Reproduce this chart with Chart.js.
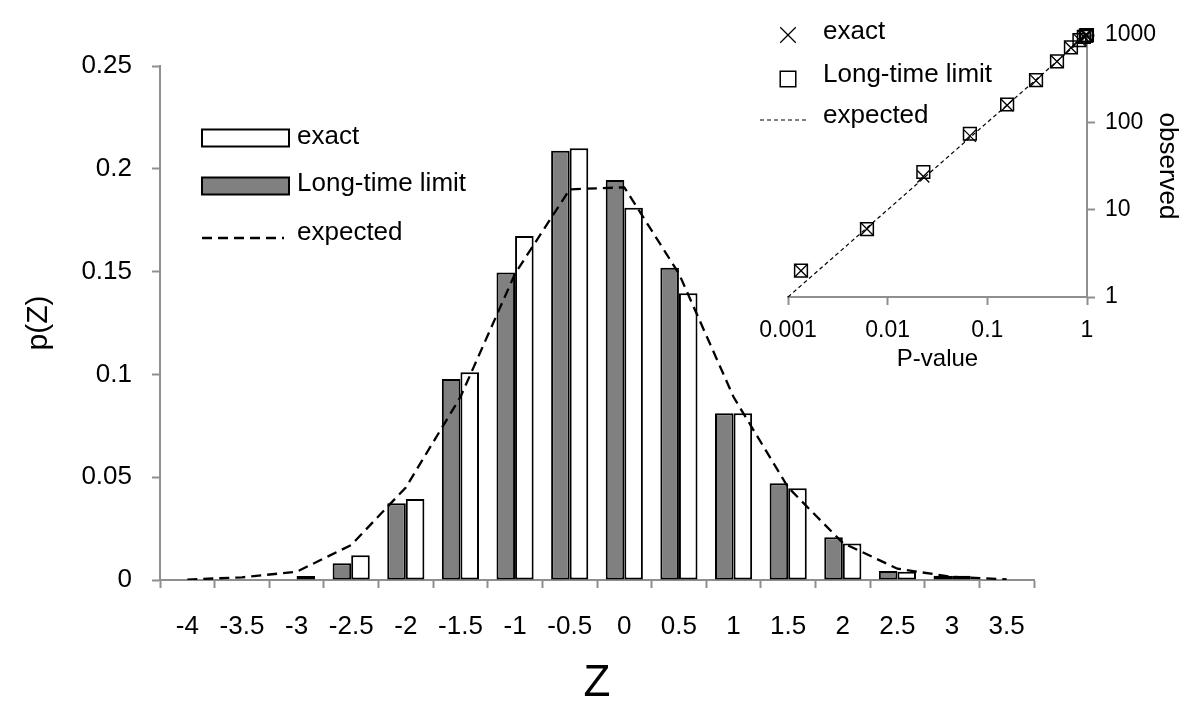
<!DOCTYPE html>
<html>
<head>
<meta charset="utf-8">
<script src="https://cdn.jsdelivr.net/npm/chart.js@4"></script>
<style>
  body { margin: 0; background: #fff; }
  #main { position: absolute; left: 0; top: 0; width: 1200px; height: 728px; }
  #inset { position: absolute; left: 700px; top: 0; width: 500px; height: 390px; }
</style>
</head>
<body>
<div id="main"><canvas id="histChart"></canvas></div>
<div id="inset"><canvas id="ppChart"></canvas></div>
<script>
// -----------------------------
// DATA
// -----------------------------
const zLabels = ["-4", "-3.5", "-3", "-2.5", "-2", "-1.5", "-1", "-0.5", "0", "0.5", "1", "1.5", "2", "2.5", "3", "3.5"];
const longTimeP = [null, null, null, 0.0081, 0.0373, 0.0978, 0.1496, 0.2088, 0.1946, 0.1519, 0.0811, 0.047, 0.0208, 0.0044, 0.0021, null];
const exactP = [null, null, 0.002, 0.012, 0.0394, 0.101, 0.1673, 0.21, 0.181, 0.1395, 0.0811, 0.0446, 0.0178, 0.004, 0.0021, null];
const expectedP = [0.0002, 0.0013, 0.004, 0.017, 0.045, 0.089, 0.149, 0.19, 0.191, 0.149, 0.089, 0.045, 0.018, 0.0055, 0.0015, 0.0003];

const pValues = [0.00135, 0.0062, 0.0228, 0.0668, 0.158, 0.308, 0.5, 0.69, 0.84, 0.93, 0.975, 0.993, 0.9985];
const exactObs = [2, 6, 24, 70, 157, 300, 497, 715, 880, 955, 985, 995, 999];
const longTimeObs = [2, 6, 27, 74, 160, 305, 500, 720, 875, 950, 985, 995, 999];
const expectedLineP = [0.001, 1];
const expectedLineObs = [1, 1000];
const pTicks = [0.001, 0.01, 0.1, 1];
const obsTicks = [1, 10, 100, 1000];

const FONT = "'Liberation Sans', Arial, sans-serif";
const AXIS_GREY = "#8f8f8f";
Chart.defaults.color = "#000";
Chart.defaults.font.family = FONT;

// legend drawn at fixed spots, like the original
const fixedLegend = {
    id: "fixedLegend",
    afterDraw(chart, args, opts) {
        const ctx = chart.ctx;
        ctx.save();
        opts.items.forEach((it, i) => {
            const ds = chart.data.datasets[it.ds];
            const my = opts.markerY[i];
            ctx.lineWidth = ds.borderWidth;
            ctx.strokeStyle = ds.borderColor;
            ctx.setLineDash([]);
            if (it.kind === "box") {
                ctx.fillStyle = ds.backgroundColor;
                ctx.fillRect(opts.x, my - opts.boxH / 2, opts.boxW, opts.boxH);
                ctx.strokeRect(opts.x, my - opts.boxH / 2, opts.boxW, opts.boxH);
            } else if (it.kind === "dash") {
                ctx.setLineDash(ds.borderDash);
                ctx.beginPath();
                ctx.moveTo(opts.lineX0, my);
                ctx.lineTo(opts.lineX1, my);
                ctx.stroke();
            } else {
                ctx.fillStyle = "rgba(0,0,0,0)";
                Chart.helpers.drawPoint(ctx, {
                    pointStyle: ds.pointStyle,
                    radius: it.radius || ds.pointRadius,
                    borderWidth: ds.borderWidth,
                    rotation: 0
                }, opts.markerX, my);
            }
            ctx.setLineDash([]);
            ctx.fillStyle = "#000";
            ctx.font = opts.font;
            ctx.textBaseline = "middle";
            ctx.textAlign = "left";
            ctx.fillText(ds.label, opts.textX, opts.textY[i]);
        });
        ctx.restore();
    }
};

// -----------------------------
// HISTOGRAM
// -----------------------------
new Chart(document.getElementById("histChart"), {
    type: "bar",
    plugins: [fixedLegend],
    data: {
        labels: zLabels,
        datasets: [{
            label: "Long-time limit",
            data: longTimeP,
            backgroundColor: "#808080",
            borderColor: "#000",
            borderWidth: 2,
            borderSkipped: false,
            order: 2
        }, {
            label: "exact",
            data: exactP,
            backgroundColor: "#fff",
            borderColor: "#000",
            borderWidth: 2,
            borderSkipped: false,
            order: 2
        }, {
            type: "line",
            label: "expected",
            data: expectedP,
            borderColor: "#000",
            borderWidth: 2.3,
            borderDash: [10, 6],
            pointRadius: 0,
            fill: false,
            tension: 0,
            order: 0
        }]
    },
    options: {
        responsive: true,
        maintainAspectRatio: false,
        animation: false,
        layout: { padding: { top: 66, right: 166, left: 0, bottom: 0 } },
        datasets: { bar: { categoryPercentage: 0.68, barPercentage: 1.0 } },
        plugins: {
            legend: { display: false },
            tooltip: { enabled: false },
            fixedLegend: {
                items: [{ ds: 1, kind: "box" }, { ds: 0, kind: "box" }, { ds: 2, kind: "dash" }],
                x: 202, boxW: 87, boxH: 17,
                lineX0: 202, lineX1: 284,
                markerY: [138, 186, 238],
                textY: [137, 184, 233],
                textX: 297,
                font: "26px " + FONT
            }
        },
        scales: {
            x: {
                offset: true,
                grid: { display: true, offset: true, drawOnChartArea: false, drawTicks: true, tickLength: 8, color: AXIS_GREY, tickWidth: 2 },
                border: { display: true, color: AXIS_GREY, width: 2 },
                ticks: { autoSkip: false, maxRotation: 0, padding: 23, font: { size: 26 } },
                title: { display: true, text: "Z", font: { size: 44 }, padding: { top: 0, bottom: 18 } },
                afterFit: s => { s.height = 148; }
            },
            y: {
                min: 0,
                max: 0.25,
                grid: { display: true, drawOnChartArea: false, drawTicks: true, tickLength: 8, color: AXIS_GREY, tickWidth: 2 },
                border: { display: true, color: AXIS_GREY, width: 2 },
                ticks: { stepSize: 0.05, padding: 20, font: { size: 26 }, callback: v => String(+v.toFixed(2)) },
                title: { display: true, text: "p(Z)", font: { size: 30 }, padding: { top: 21, bottom: 0 } },
                afterFit: s => { s.width = 160; }
            }
        }
    }
});

// -----------------------------
// INSET P-P PLOT
// -----------------------------
const toPts = (xs, ys) => xs.map((x, i) => ({ x, y: ys[i] }));

new Chart(document.getElementById("ppChart"), {
    type: "scatter",
    plugins: [fixedLegend],
    data: {
        datasets: [{
            label: "exact",
            data: toPts(pValues, exactObs),
            pointStyle: "crossRot",
            pointRadius: 8.5,
            borderColor: "#000",
            backgroundColor: "rgba(0,0,0,0)",
            borderWidth: 1.3,
            clip: false
        }, {
            label: "Long-time limit",
            data: toPts(pValues, longTimeObs),
            pointStyle: "rect",
            pointRadius: 9,
            borderColor: "#000",
            backgroundColor: "rgba(0,0,0,0)",
            borderWidth: 1.5,
            clip: false
        }, {
            label: "expected",
            data: toPts(expectedLineP, expectedLineObs),
            showLine: true,
            pointRadius: 0,
            borderColor: "#000",
            borderWidth: 1.2,
            borderDash: [4, 3],
            clip: false
        }]
    },
    options: {
        responsive: true,
        maintainAspectRatio: false,
        animation: false,
        layout: { padding: { top: 35, left: 88, right: 0, bottom: 0 } },
        plugins: {
            legend: { display: false },
            tooltip: { enabled: false },
            fixedLegend: {
                items: [{ ds: 0, kind: "point", radius: 11 }, { ds: 1, kind: "point", radius: 11 }, { ds: 2, kind: "dash" }],
                markerX: 88,
                lineX0: 60, lineX1: 108,
                markerY: [35, 79, 120],
                textY: [32, 75, 116],
                textX: 123,
                font: "26px " + FONT
            }
        },
        scales: {
            x: {
                type: "logarithmic",
                min: 0.001,
                max: 1,
                grid: { display: true, drawOnChartArea: false, drawTicks: true, tickLength: 8, color: AXIS_GREY, tickWidth: 2 },
                border: { display: true, color: AXIS_GREY, width: 2 },
                afterBuildTicks: s => { s.ticks = pTicks.map(v => ({ value: v })); },
                ticks: { autoSkip: false, maxRotation: 0, padding: 12, font: { size: 23 }, callback: v => String(v) },
                title: { display: true, text: "P-value", font: { size: 24 }, padding: { top: 0, bottom: 16 } },
                afterFit: s => { s.height = 93; }
            },
            y: {
                type: "logarithmic",
                position: "right",
                min: 1,
                max: 1000,
                grid: { display: true, drawOnChartArea: false, drawTicks: true, tickLength: 8, color: AXIS_GREY, tickWidth: 2 },
                border: { display: true, color: AXIS_GREY, width: 2 },
                afterBuildTicks: s => { s.ticks = obsTicks.map(v => ({ value: v })); },
                ticks: { autoSkip: false, padding: 10, font: { size: 23 }, callback: v => String(v) },
                title: { display: true, text: "observed", font: { size: 26 }, padding: { top: 17, bottom: 0 } },
                afterFit: s => { s.width = 113; }
            }
        }
    }
});
</script>
</body>
</html>
